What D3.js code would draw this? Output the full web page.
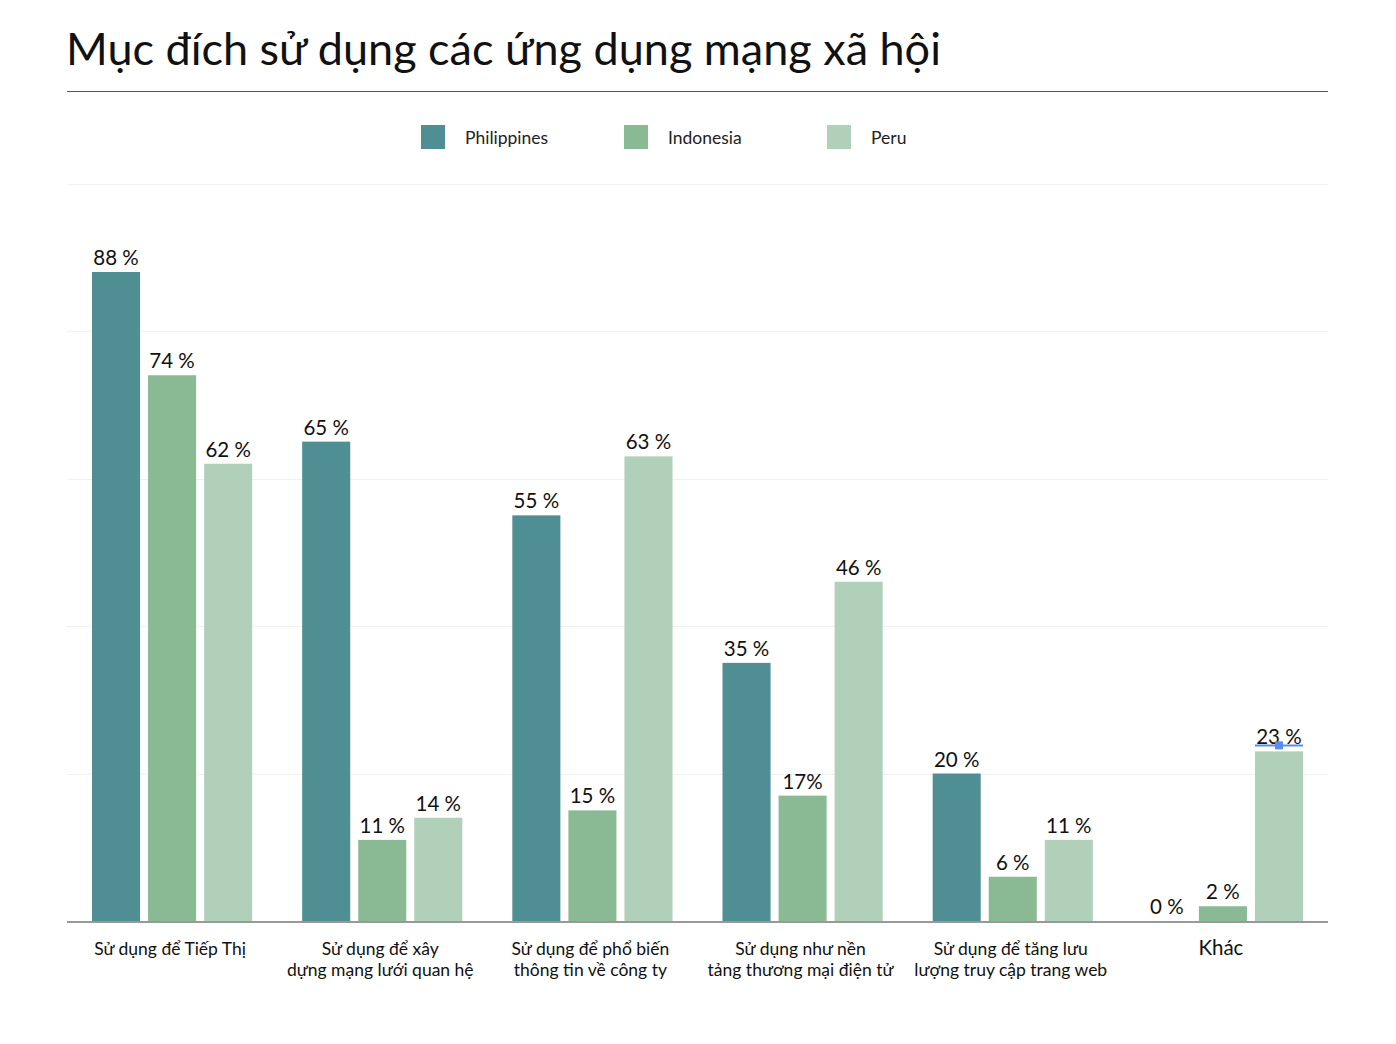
<!DOCTYPE html>
<html>
<head>
<meta charset="utf-8">
<script src="https://cdn.jsdelivr.net/npm/d3@7"></script>
<style>
  body { margin: 0; background: #fff; }
  svg { display: block; font-family: Lato, "Noto Sans", sans-serif; }
</style>
</head>
<body>
<svg id="chart" width="1396" height="1044"></svg>
<script>
const categories = [
    ["Sử dụng để Tiếp Thị"],
    ["Sử dụng để xây", "dựng mạng lưới quan hệ"],
    ["Sử dụng để phổ biến", "thông tin về công ty"],
    ["Sử dụng như nền", "tảng thương mại điện tử"],
    ["Sử dụng để tăng lưu", "lượng truy cập trang web"],
    ["Khác"]
];
const seriesNames = ["Philippines", "Indonesia", "Peru"];
const philippines = [88, 65, 55, 35, 20, 0];
const indonesia = [74, 11, 15, 17, 6, 2];
const peru = [62, 14, 63, 46, 11, 23];
const valueLabels = [
    ["88 %", "65 %", "55 %", "35 %", "20 %", "0 %"],
    ["74 %", "11 %", "15 %", "17%", "6 %", "2 %"],
    ["62 %", "14 %", "63 %", "46 %", "11 %", "23 %"]
];
const gridTicks = [0, 20, 40, 60, 80, 100];

const colors = ["#4f8f94", "#8aba94", "#b1d0b9"];
const series = [philippines, indonesia, peru];

const svg = d3.select("#chart");

const plotLeft = 67, plotRight = 1328;
const plotTop = 183.5, plotBottom = 921;

// title
svg.append("text")
    .attr("x", 66)
    .attr("y", 65)
    .attr("font-size", 45)
    .attr("fill", "#111")
    .text("Mục đích sử dụng các ứng dụng mạng xã hội");

svg.append("line")
    .attr("x1", plotLeft).attr("x2", plotRight)
    .attr("y1", 91.5).attr("y2", 91.5)
    .attr("stroke", "#555")
    .attr("stroke-width", 1.2);

// legend
const legend = svg.append("g")
    .selectAll("g")
    .data(seriesNames)
    .enter()
    .append("g")
    .attr("transform", (d, i) => `translate(${421 + i * 203},125)`);

legend.append("rect")
    .attr("width", 24).attr("height", 24)
    .attr("fill", (d, i) => colors[i]);

legend.append("text")
    .attr("x", 44).attr("y", 19)
    .attr("font-size", 17.5)
    .attr("fill", "#222")
    .text(d => d);

const y = d3.scaleLinear()
    .domain([0, 100])
    .range([plotBottom, plotTop]);

const x0 = d3.scaleBand()
    .domain(d3.range(categories.length))
    .range([plotLeft, plotRight]);

const x1 = d3.scaleBand()
    .domain(d3.range(series.length))
    .range([25, x0.bandwidth() - 25])
    .paddingInner(0.1428);

// grid
svg.append("g")
    .selectAll("line")
    .data(gridTicks.slice(1))
    .enter()
    .append("line")
    .attr("x1", plotLeft).attr("x2", plotRight)
    .attr("y1", d => Math.round(y(d)) + 0.5)
    .attr("y2", d => Math.round(y(d)) + 0.5)
    .attr("stroke", "#f0f0f0");

// bars
const groups = svg.append("g")
    .selectAll("g")
    .data(categories)
    .enter()
    .append("g")
    .attr("transform", (d, i) => `translate(${x0(i)},0)`);

series.forEach((vals, s) => {
    groups.append("rect")
        .attr("x", x1(s))
        .attr("width", x1.bandwidth())
        .attr("y", (d, i) => y(vals[i]))
        .attr("height", (d, i) => plotBottom - y(vals[i]))
        .attr("fill", colors[s]);

    groups.append("text")
        .attr("x", x1(s) + x1.bandwidth() / 2)
        .attr("y", (d, i) => y(vals[i]) - 7)
        .attr("text-anchor", "middle")
        .attr("font-size", 20.5)
        .attr("fill", "#111")
        .text((d, i) => valueLabels[s][i]);
});

// baseline
svg.append("line")
    .attr("x1", plotLeft).attr("x2", plotRight)
    .attr("y1", plotBottom + 1).attr("y2", plotBottom + 1)
    .attr("stroke", "#999")
    .attr("stroke-width", 2);

// category labels
groups.append("text")
    .attr("x", x0.bandwidth() / 2 - 2)
    .attr("y", 955)
    .attr("text-anchor", "middle")
    .attr("font-size", d => d.length === 1 && d[0] === "Khác" ? 20.5 : 17.5)
    .attr("fill", "#111")
    .selectAll("tspan")
    .data(d => d)
    .enter()
    .append("tspan")
    .attr("x", x0.bandwidth() / 2 - 2)
    .attr("dy", (d, i) => i === 0 ? 0 : 21)
    .text(d => d);

// selection marker on the last bar, as in the source image
const last = categories.length - 1;
const mx = x0(last) + x1(2);
svg.append("line")
    .attr("x1", mx).attr("x2", mx + x1.bandwidth())
    .attr("y1", y(peru[last]) - 6).attr("y2", y(peru[last]) - 6)
    .attr("stroke", "#5b8def")
    .attr("stroke-width", 2);
svg.append("rect")
    .attr("x", mx + x1.bandwidth() / 2 - 4)
    .attr("y", y(peru[last]) - 10)
    .attr("width", 8).attr("height", 8)
    .attr("fill", "#5b8def");
</script>
</body>
</html>
